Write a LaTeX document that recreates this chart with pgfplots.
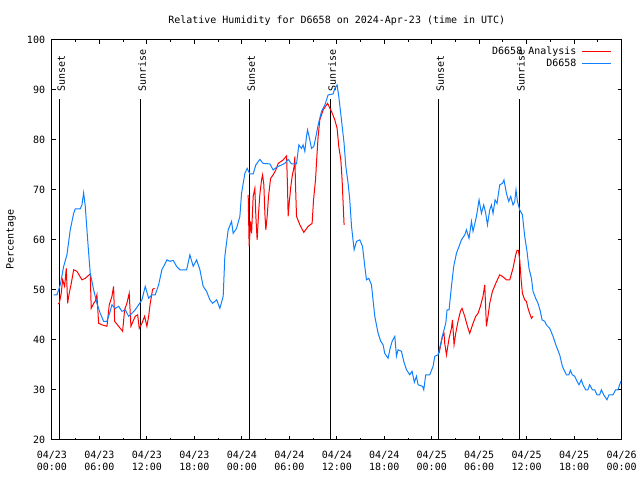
\documentclass[border=0pt]{standalone}
\usepackage{fontspec}
\setmainfont{DejaVu Sans Mono}
\usepackage{pgfplots}
\pgfplotsset{compat=1.18}
\definecolor{rhblue}{RGB}{16,128,255}
\begin{document}
\fontsize{7.5pt}{9pt}\selectfont
\begin{tikzpicture}
\begin{axis}[
  scale only axis, width=427.5pt, height=300pt,
  at={(39pt,30pt)}, anchor=south west,
  xmin=0, xmax=72, ymin=20, ymax=100,
  xtick={0,6,...,72},
  xticklabels={{04/23\\00:00},{04/23\\06:00},{04/23\\12:00},{04/23\\18:00},{04/24\\00:00},{04/24\\06:00},{04/24\\12:00},{04/24\\18:00},{04/25\\00:00},{04/25\\06:00},{04/25\\12:00},{04/25\\18:00},{04/26\\00:00}},
  minor x tick num=1,
  ytick={20,30,...,100},
  /pgf/number format/assume math mode=true,
  major tick length=3pt, minor tick length=1.5pt,
  tick align=inside, xtick pos=both, ytick pos=both,
  every tick/.style={black, line width=0.75pt},
  axis line style={line width=0.75pt},
  xticklabel style={align=center, anchor=center, yshift=-15.75pt, font=\fontsize{7.5pt}{9pt}\selectfont},
  yticklabel style={anchor=east, inner sep=0pt, xshift=-5pt},
  title={Relative Humidity for D6658 on 2024-Apr-23 (time in UTC)},
  title style={at={(axis description cs:0.5,1)}, anchor=center, yshift=8.25pt},
  ylabel={Percentage},
  every axis y label/.style={at={(axis description cs:-0.072,0.5)}, rotate=90, anchor=center},
  legend cell align=right,
  legend style={at={(axis description cs:0.9328,0.9975)}, anchor=north east, draw=none, fill=none, row sep=-1.25pt},
  legend image code/.code={\path (0pt,0pt); \draw[#1, overlay] (69.7pt,0pt) -- (91.7pt,0pt);},
]
% Sunrise / sunset markers
\addplot[black, line width=0.75pt, forget plot] coordinates {(1.01,20) (1.01,88.2)};
\addplot[black, line width=0.75pt, forget plot] coordinates {(11.24,20) (11.24,88.2)};
\addplot[black, line width=0.75pt, forget plot] coordinates {(25.01,20) (25.01,88.2)};
\addplot[black, line width=0.75pt, forget plot] coordinates {(35.24,20) (35.24,88.2)};
\addplot[black, line width=0.75pt, forget plot] coordinates {(48.89,20) (48.89,88.2)};
\addplot[black, line width=0.75pt, forget plot] coordinates {(59.12,20) (59.12,88.2)};
\node[rotate=90, anchor=base west, inner sep=0pt] at ([xshift=3.75pt]axis cs:1.01,89.6) {Sunset};
\node[rotate=90, anchor=base west, inner sep=0pt] at ([xshift=3.75pt]axis cs:11.24,89.6) {Sunrise};
\node[rotate=90, anchor=base west, inner sep=0pt] at ([xshift=3.75pt]axis cs:25.01,89.6) {Sunset};
\node[rotate=90, anchor=base west, inner sep=0pt] at ([xshift=3.75pt]axis cs:35.24,89.6) {Sunrise};
\node[rotate=90, anchor=base west, inner sep=0pt] at ([xshift=3.75pt]axis cs:48.89,89.6) {Sunset};
\node[rotate=90, anchor=base west, inner sep=0pt] at ([xshift=3.75pt]axis cs:59.12,89.6) {Sunrise};
% D6658 Analysis (red)
\addplot[red, line width=0.75pt] coordinates {
(0.76,47.2)(0.92,47.3)(1.17,49.3)(1.35,52)(1.60,50.7)(1.81,54.3)(1.98,47.3)(2.11,48.7)(2.44,51.3)(2.74,54)(3.16,53.7)(3.79,52)(4.21,52.3)(4.84,53.2)(4.96,46.3)(5.27,47.3)(5.47,47.7)(5.68,49)(5.90,43.3)(6.32,43)(6.95,42.7)(7.24,47)(7.58,48.7)(7.79,50.7)(7.92,43.7)(8.43,42.7)(8.93,41.7)(9.18,46)(9.47,47.3)(9.76,49.3)(9.98,42.7)(10.52,44.7)(10.83,45)(11.03,42.3)(11.37,43.3)(11.71,44.7)(12.00,42.7)(12.22,44.7)(12.42,47.3)(12.72,50.1)(12.97,50.3)
};
\addlegendentry{D6658 Analysis}
\addplot[red, line width=0.75pt, forget plot] coordinates {
(24.80,69)(24.92,58.7)(25.10,63.7)(25.23,61.3)(25.43,68.7)(25.64,70.3)(25.77,64.7)(25.93,60)(26.11,65.3)(26.27,69)(26.49,72)(26.62,73)(26.78,71)(26.91,65.3)(27.03,62)(27.20,64.7)(27.37,68.7)(27.63,72.3)(27.95,73)(28.30,74)(28.59,75.3)(29.22,76)(29.65,76.8)(29.77,70.7)(29.85,64.7)(29.98,67.3)(30.19,70.7)(30.36,72.7)(30.61,74.7)(30.70,76.7)(30.78,71)(30.91,64.7)(31.33,63)(31.83,61.5)(32.38,62.7)(32.88,63.3)(33.06,68)(33.31,72)(33.48,76.7)(33.64,80.7)(33.85,84)(34.27,86)(34.83,87.3)(35.33,85.7)(35.75,84)(36.04,82.3)(36.25,78.7)(36.51,76)(36.67,72)(36.92,63)
};
\addplot[red, line width=0.75pt, forget plot] coordinates {
(48.92,37.3)(49.10,38.7)(49.35,40.7)(49.55,41.3)(49.64,39.3)(49.86,37)(50.19,40.3)(50.49,42.3)(50.62,44)(50.82,39)(51.03,41.3)(51.32,43.7)(51.63,45.7)(51.83,46.3)(52.17,44.7)(52.51,42.7)(52.80,41.3)(53.22,43.3)(53.56,44.7)(53.85,45.3)(54.15,46.7)(54.48,48.7)(54.70,51)(54.91,42.7)(55.11,44.7)(55.33,47.3)(55.67,49.7)(56.09,51.3)(56.59,53)(56.93,52.7)(57.44,52)(57.86,52)(58.27,54.3)(58.61,57)(58.78,57.9)(58.95,57.9)(59.12,56)(59.30,52)(59.46,49.3)(59.75,48)(59.96,47.7)(60.17,46.3)(60.38,45.3)(60.60,44.3)(60.80,44.7)
};
% D6658 (blue)
\addplot[rhblue, line width=0.75pt] coordinates {
(0.21,49)(0.63,49)(1.05,51)(1.48,54.7)(1.89,57)(2.31,62)(2.74,65.3)(2.94,66.2)(3.57,66.2)(3.79,67)(4.00,69.4)(4.21,66.7)(4.42,62)(4.64,57.3)(4.84,53.3)(5.27,50)(5.68,47.3)(6.10,45.3)(6.53,43.7)(6.95,43.7)(7.36,45.7)(7.58,47)(8.00,46.3)(8.43,46.7)(8.84,45.7)(9.26,46)(9.69,44.7)(10.11,45.3)(10.52,46)(10.95,47)(11.37,48)(11.79,50.7)(12.22,48.3)(12.63,49)(13.05,49)(13.48,51)(13.89,54)(14.53,56)(14.91,55.7)(15.32,55.9)(15.75,54.7)(16.17,54)(17.02,54)(17.43,57)(17.85,54.7)(18.28,56)(18.70,54)(19.11,50.7)(19.54,49.7)(19.96,48)(20.30,47.3)(20.81,48)(21.22,46.3)(21.64,48.7)(21.85,56.7)(22.27,62)(22.70,63.7)(22.90,61.3)(23.33,62.3)(23.75,64.7)(23.96,69.3)(24.38,73.3)(24.67,74.3)(25.01,73.2)(25.43,73.2)(25.77,75)(26.27,76.1)(26.69,75.3)(27.54,75.2)(27.95,74)(28.38,74.5)(29.02,75)(29.43,75.3)(29.85,76.1)(30.28,75.2)(30.91,75.2)(31.20,79)(31.54,78.3)(31.74,79)(31.96,77.7)(32.17,80.7)(32.30,82)(32.59,80)(32.80,78.3)(33.10,78.7)(33.44,81.3)(33.64,83)(34.07,85.7)(34.49,87)(34.90,89)(35.53,89.2)(35.75,90.3)(36.04,91)(36.25,88.7)(36.59,84)(36.92,79.3)(37.14,74.7)(37.43,71.3)(37.64,68)(37.86,62.7)(38.19,58)(38.49,59.7)(38.91,60)(39.25,58.7)(39.54,54.7)(39.75,52)(40.04,52.3)(40.38,51)(40.58,48)(40.80,44.7)(41.22,41.3)(41.56,39.7)(41.85,39)(42.06,37.3)(42.48,36.3)(42.70,38)(42.99,39.7)(43.33,40.7)(43.54,36.7)(43.74,38)(44.17,37.7)(44.46,35.7)(44.81,34)(45.22,33)(45.51,33.7)(45.80,31.5)(46.07,32.7)(46.27,31)(46.83,30.7)(46.99,30)(47.24,33)(47.75,33)(48.17,34.7)(48.38,36.7)(48.80,37)(49.10,39)(49.43,41.3)(49.77,43.3)(49.94,46)(50.19,46)(50.49,50.7)(50.78,54.7)(51.12,57.3)(51.45,58.7)(51.75,60)(52.17,61)(52.38,62)(52.71,60.3)(53.02,63.7)(53.22,61.7)(53.65,64.7)(53.98,68)(54.28,65.3)(54.57,67)(54.82,65.3)(55.04,63)(55.33,66)(55.54,67)(55.75,65.3)(56.00,68)(56.25,67.3)(56.59,71)(56.93,71.3)(57.13,72)(57.44,69.3)(57.73,67.7)(57.98,68.7)(58.27,67)(58.49,67.7)(58.65,70)(58.83,67.7)(59.12,66)(59.46,65)(59.75,60.7)(60.04,57.7)(60.29,54.3)(60.60,52.3)(60.80,49.7)(61.14,48.3)(61.43,47.3)(61.73,45.7)(61.94,44)(62.28,43.7)(62.49,43)(62.91,42.3)(63.33,40.7)(63.75,38.7)(64.17,37)(64.51,34.7)(64.80,33.7)(65.01,33)(65.34,33)(65.52,33.9)(65.77,33)(66.07,32.7)(66.36,31.7)(66.61,31)(66.91,32)(67.12,31)(67.45,30)(67.74,30)(67.96,31)(68.30,30)(68.59,30)(68.88,29)(69.22,29)(69.44,30)(69.73,29)(70.15,28)(70.40,29)(70.91,29)(71.24,30)(71.53,30)(71.75,31)(71.91,31.7)
};
\addlegendentry{D6658}
\end{axis}
\path[use as bounding box] (0,0) rectangle (480pt,360pt);
\end{tikzpicture}
\end{document}
